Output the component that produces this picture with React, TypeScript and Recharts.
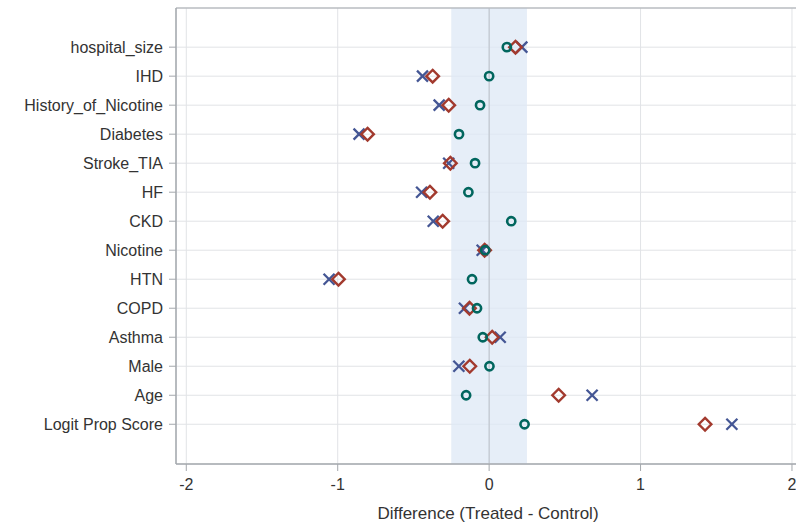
import { ScatterChart, Scatter, XAxis, YAxis, CartesianGrid, ReferenceArea, ReferenceLine } from 'recharts'

// covariates, top to bottom
const categories = [
  'hospital_size', 'IHD', 'History_of_Nicotine', 'Diabetes', 'Stroke_TIA', 'HF', 'CKD',
  'Nicotine', 'HTN', 'COPD', 'Asthma', 'Male', 'Age', 'Logit Prop Score',
]

// standardized differences per covariate
const allObs = [0.216, -0.44, -0.33, -0.859, -0.267, -0.446, -0.369, -0.046, -1.057, -0.163, 0.073, -0.2, 0.68, 1.603]
const region = [0.174, -0.373, -0.267, -0.803, -0.256, -0.391, -0.307, -0.03, -0.995, -0.13, 0.02, -0.128, 0.459, 1.426]
const matched = [0.117, 0.0, -0.06, -0.199, -0.093, -0.137, 0.146, -0.026, -0.113, -0.08, -0.042, 0.002, -0.152, 0.234]

const xTicks = [-2, -1, 0, 1, 2]
const X_DOMAIN: [number, number] = [-2.068, 2.053]
const Y_DOMAIN: [number, number] = [-1.35, 14.37]

const toPoints = (vals: number[]) => vals.map((v, i) => ({ x: v, y: i }))

const BLUE = '#445694'
const RED = '#A23A2E'
const TEAL = '#01665E'
const FONT = '"Liberation Sans", Arial, sans-serif'

const Cross = ({ cx, cy }: any) => (
  <g stroke={BLUE} strokeWidth={2.3}>
    <line x1={cx - 5.5} y1={cy - 5.5} x2={cx + 5.5} y2={cy + 5.5} />
    <line x1={cx - 5.5} y1={cy + 5.5} x2={cx + 5.5} y2={cy - 5.5} />
  </g>
)

const Diamond = ({ cx, cy }: any) => (
  <polygon
    points={`${cx},${cy - 6.3} ${cx + 6.3},${cy} ${cx},${cy + 6.3} ${cx - 6.3},${cy}`}
    fill="none" stroke={RED} strokeWidth={2.4}
  />
)

const Ring = ({ cx, cy }: any) => (
  <circle cx={cx} cy={cy} r={4.1} fill="none" stroke={TEAL} strokeWidth={2.6} />
)

export default function App() {
  const tickStyle = { fontSize: 16, fill: '#333', fontFamily: FONT }
  return (
    <div style={{ position: 'absolute', left: 0, top: 0, width: 796, height: 524, overflow: 'hidden', background: '#fff' }}>
      <ScatterChart width={802} height={524} margin={{ top: 8, right: 2, bottom: 0, left: 0 }}>
        <ReferenceArea x1={-0.25} x2={0.25} y1={Y_DOMAIN[0]} y2={Y_DOMAIN[1]} fill="#dde8f6" fillOpacity={0.75} stroke="none" />
        <CartesianGrid stroke="#e1e3e6" strokeWidth={1} />
        <ReferenceLine x={0} stroke="#b9bec6" strokeWidth={1} />
        <ReferenceArea x1={X_DOMAIN[0]} x2={X_DOMAIN[1]} y1={Y_DOMAIN[0]} y2={Y_DOMAIN[1]} fill="none" stroke="#a4a8ad" strokeWidth={1} />
        <XAxis
          type="number"
          dataKey="x"
          domain={X_DOMAIN}
          ticks={xTicks}
          allowDataOverflow
          height={60}
          tickSize={7}
          tickMargin={8}
          tick={tickStyle}
          stroke="#a4a8ad"
          label={{ value: 'Difference (Treated - Control)', position: 'insideBottom', offset: 5, style: { fontSize: 17, fill: '#333', fontFamily: FONT } }}
        />
        <YAxis
          type="number"
          dataKey="y"
          domain={Y_DOMAIN}
          ticks={categories.map((_, i) => i)}
          interval={0}
          reversed
          allowDataOverflow
          width={176}
          tickSize={7}
          tickMargin={6}
          tick={tickStyle}
          stroke="#a4a8ad"
          tickFormatter={(i: number) => categories[i] ?? ''}
        />
        <Scatter data={toPoints(allObs)} shape={<Cross />} isAnimationActive={false} />
        <Scatter data={toPoints(region)} shape={<Diamond />} isAnimationActive={false} />
        <Scatter data={toPoints(matched)} shape={<Ring />} isAnimationActive={false} />
      </ScatterChart>
    </div>
  )
}
